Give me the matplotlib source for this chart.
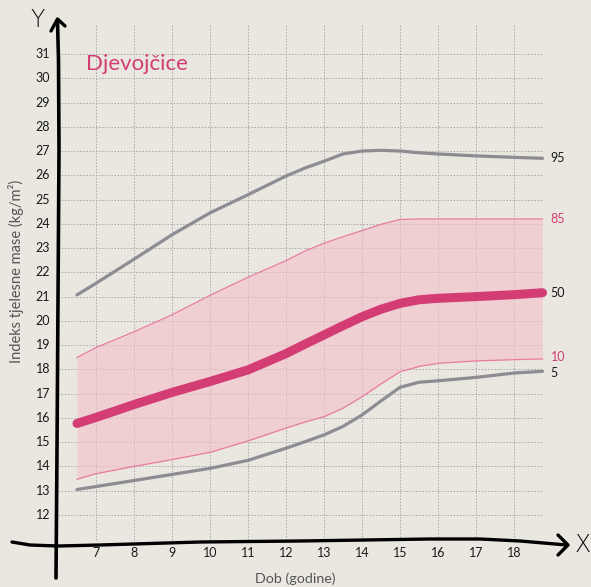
import matplotlib
matplotlib.use("Agg")
import matplotlib.pyplot as plt

# BMI percentile curves for girls
ages = [6.5, 7, 8, 9, 10, 11, 12, 12.5, 13, 13.5, 14, 14.5, 15, 15.5, 16, 17, 18, 18.75]
p95 = [21.07, 21.55, 22.54, 23.55, 24.45, 25.2, 25.97, 26.3, 26.58, 26.88, 27.0, 27.03, 27.0, 26.93, 26.88, 26.8, 26.74, 26.7]
p85 = [18.49, 18.9, 19.55, 20.25, 21.05, 21.8, 22.48, 22.88, 23.2, 23.47, 23.72, 23.98, 24.18, 24.2, 24.2, 24.2, 24.2, 24.2]
p50 = [15.77, 16.02, 16.55, 17.05, 17.5, 17.98, 18.65, 19.04, 19.42, 19.8, 20.17, 20.48, 20.72, 20.87, 20.93, 21.0, 21.08, 21.16]
p10 = [13.47, 13.7, 14.0, 14.28, 14.58, 15.05, 15.58, 15.83, 16.05, 16.4, 16.87, 17.4, 17.9, 18.12, 18.25, 18.35, 18.4, 18.43]
p5 = [13.05, 13.17, 13.42, 13.67, 13.92, 14.25, 14.75, 15.02, 15.3, 15.65, 16.12, 16.7, 17.26, 17.47, 17.53, 17.67, 17.85, 17.92]

x_ticks = list(range(7, 19))
y_ticks = list(range(12, 32))

bg = "#e9e7e0"
pink = "#d33d73"
pink_line = "#e77c9e"
grey = "#8c8c92"
tick_font = ["Lato", "DejaVu Sans"]

fig = plt.figure(figsize=(5.91, 5.87), dpi=100, facecolor=bg)
ax = fig.add_axes([0, 0, 1, 1])
ax.set_facecolor(bg)
ax.set_xlim(4.474, 20.026)
ax.set_ylim(9.03, 33.226)
ax.axis("off")

# dotted grid
ax.vlines(x_ticks, 10.97, 32.2, colors="#ababab", linewidth=0.7, linestyles=(0, (1.6, 1.6)), zorder=1)
ax.hlines(y_ticks, 6.0, 18.76, colors="#ababab", linewidth=0.7, linestyles=(0, (1.6, 1.6)), zorder=1)

# band between 10th and 85th
ax.fill_between(ages, p10, p85, color="#f6c0c9", alpha=0.6, linewidth=0, zorder=2)
ax.plot(ages, p85, color=pink_line, linewidth=0.9, zorder=3)
ax.plot(ages, p10, color=pink_line, linewidth=0.9, zorder=3)

ax.plot(ages, p95, color=grey, linewidth=2.3, solid_capstyle="round", solid_joinstyle="round", zorder=4)
ax.plot(ages, p5, color=grey, linewidth=2.3, solid_capstyle="round", solid_joinstyle="round", zorder=4)
ax.plot(ages, p50, color=pink, linewidth=6.5, solid_capstyle="round", solid_joinstyle="round", zorder=5)

# right-hand percentile labels
lx = ages[-1] + 0.21
ax.text(lx, p95[-1], "95", color="#1a1a1a", fontsize=9, family=tick_font, va="center")
ax.text(lx, p85[-1], "85", color=pink, fontsize=9, family=tick_font, va="center")
ax.text(lx, p50[-1], "50", color="#1a1a1a", fontsize=9, family=tick_font, va="center")
ax.text(lx, p10[-1] + 0.1, "10", color=pink, fontsize=9, family=tick_font, va="center")
ax.text(lx, p5[-1] - 0.05, "5", color="#1a1a1a", fontsize=9, family=tick_font, va="center")

# tick labels
for t in y_ticks:
    ax.text(5.8, t, str(t), ha="right", va="center", fontsize=9, color="#1a1a1a", family=tick_font)
for t in x_ticks:
    ax.text(t, 10.42, str(t), ha="center", va="center", fontsize=9, color="#1a1a1a", family=tick_font)

ax.text(6.74, 30.34, "Djevojčice", color=pink, fontsize=16,
        family=["Lato", "DejaVu Sans"], va="baseline", ha="left")

# hand-drawn axes in pixel coordinates
ov = fig.add_axes([0, 0, 1, 1])
ov.set_xlim(0, 591)
ov.set_ylim(587, 0)
ov.axis("off")
ov.patch.set_alpha(0)

ov.plot([56, 57, 58, 59, 58.5, 57.5], [578, 450, 300, 150, 60, 21], color="black", linewidth=2.6,
        solid_capstyle="round")
ov.plot([51, 57.5, 65], [31, 19, 26], color="black", linewidth=2.4, solid_capstyle="round",
        solid_joinstyle="round")
ov.plot([12, 30, 58, 100, 200, 300, 430, 480, 520, 567], [542, 545, 546, 545, 542, 541, 539, 539, 541, 545],
        color="black", linewidth=2.4, solid_capstyle="round")
ov.plot([558, 568, 558], [535, 545, 555], color="black", linewidth=2.4, solid_capstyle="round",
        solid_joinstyle="round")

ov.text(38, 20, "Y", fontsize=17, ha="center", va="center", color="#111111", family=["DejaVu Sans"],
        fontweight="light")
ov.text(583, 545, "X", fontsize=17, ha="center", va="center", color="#111111", family=["DejaVu Sans"],
        fontweight="light")
ov.text(295, 579, "Dob (godine)", fontsize=10.3, ha="center", va="center", color="#555555", family=tick_font)
ov.text(16, 271, "Indeks tjelesne mase (kg/m²)", fontsize=10.5, ha="center", va="center", rotation=90,
        color="#555555", family=tick_font)

fig.savefig("out.png", dpi=100, facecolor=bg)
